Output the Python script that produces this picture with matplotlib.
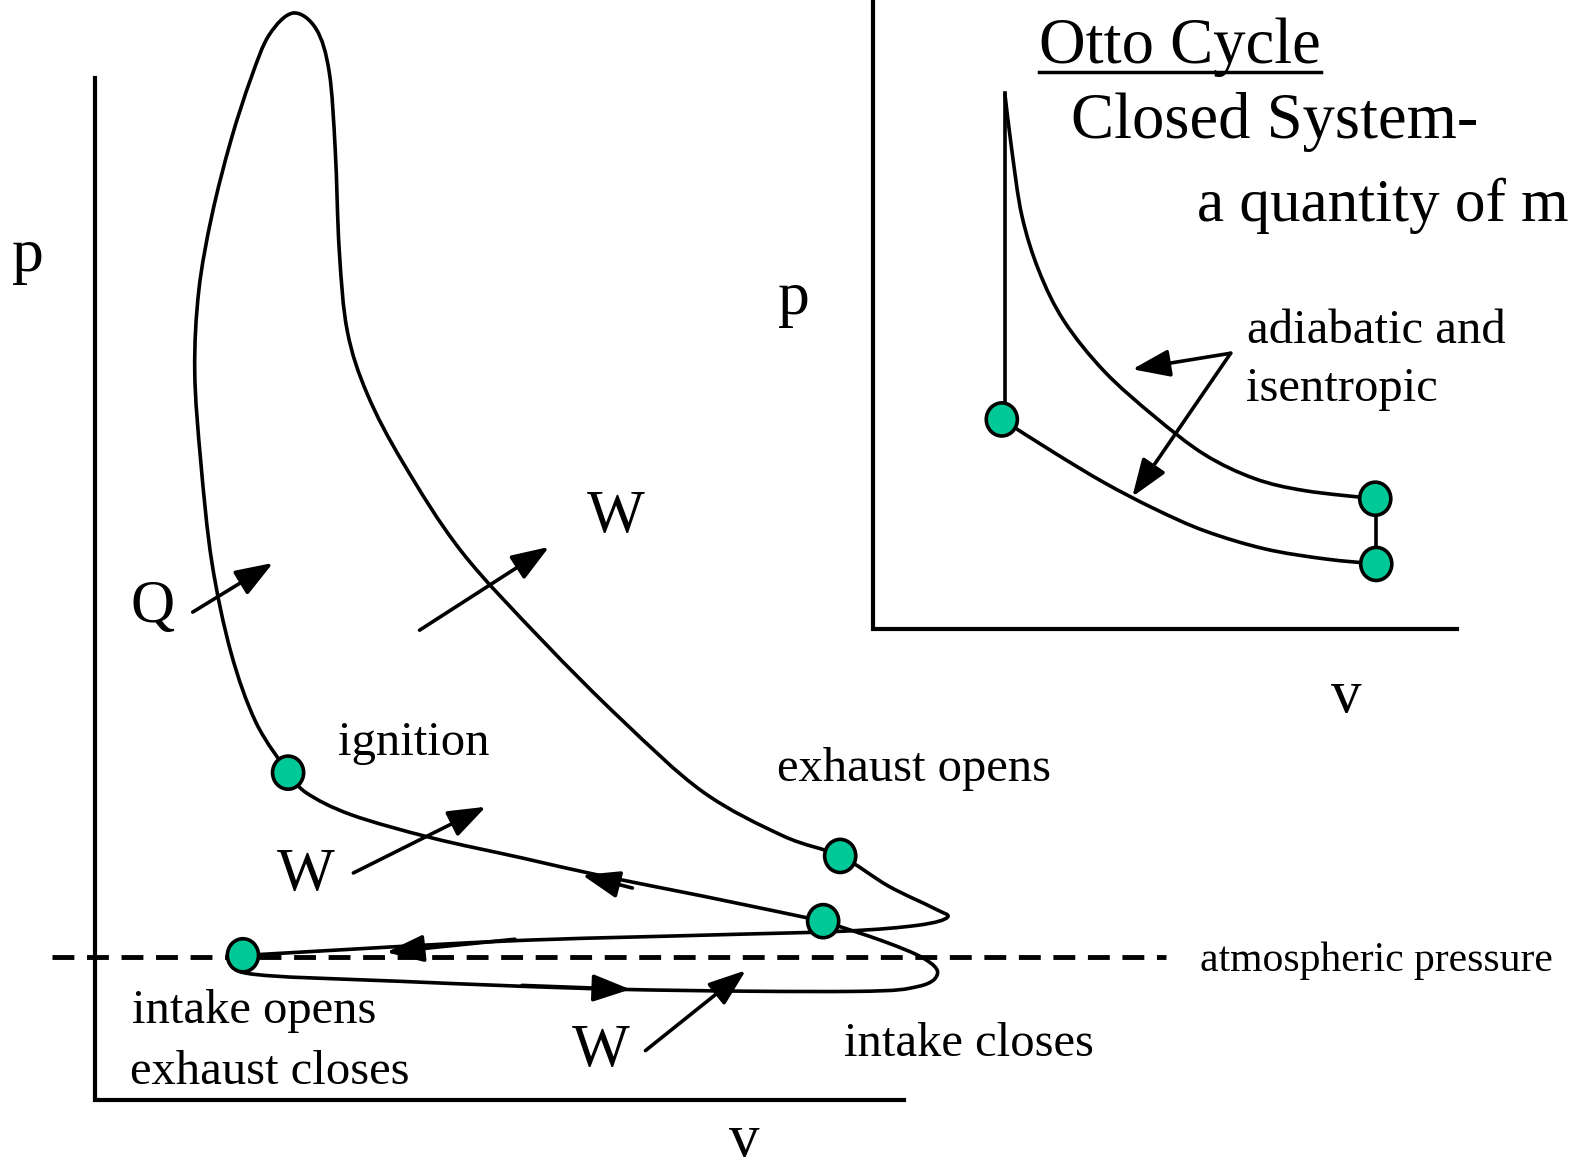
import numpy as np
import matplotlib
matplotlib.use("Agg")
import matplotlib.pyplot as plt
from matplotlib.path import Path
from matplotlib.patches import PathPatch, Ellipse

plt.rcParams['font.family'] = ['Liberation Serif', 'DejaVu Serif']

# ---- diagram data (image coordinates, y grows downward) ----
# main p-v loop of a real engine, traced from ignition around
loop_x = [287, 255, 230, 211, 200, 194, 198, 211, 230, 250, 268, 292, 315, 328,
          334, 338, 346, 366, 402, 460, 540, 620, 700, 780, 837, 885, 930,
          944, 915, 840, 700, 500, 245]
loop_y = [770, 720, 650, 560, 460, 370, 290, 215, 140, 78, 35, 13, 29, 72,
          150, 250, 330, 393, 462, 550, 638, 718, 789, 833, 853, 883, 905,
          914, 922, 928, 932, 938, 952]
# intake stroke + compression back to ignition
intake_x = [245, 246, 400, 620, 850, 915, 934, 920, 880, 820]
intake_y = [952, 970, 978, 986, 988, 983, 970, 955, 938, 918]
comp_x = [820, 700, 600, 520, 430, 350, 305, 287]
comp_y = [918, 893, 873, 855, 835, 812, 790, 770]

# Otto cycle inset
otto_exp_x = [1001, 1008, 1018, 1035, 1060, 1100, 1150, 1200, 1250, 1300, 1370]
otto_exp_y = [93, 150, 215, 270, 320, 370, 415, 453, 477, 489, 497]
otto_comp_x = [998, 1050, 1100, 1150, 1200, 1260, 1320, 1371]
otto_comp_y = [418, 451, 481, 507, 529, 547, 557, 562]

# state points
main_pts_x = [287, 837, 820, 242]
main_pts_y = [770, 853, 918, 952]
otto_pts_x = [998, 1370, 1371]
otto_pts_y = [418, 497, 562]

# arrows: (tail x, tail y, head x, head y)
arrows = [(192, 610, 272, 561), (418, 628, 547, 545), (352, 870, 484, 804),
          (643, 1047, 743, 967), (1226, 352, 1128, 368), (1226, 352, 1128, 495),
          (630, 885, 580, 872), (513, 936, 385, 949), (520, 982, 628, 986)]

labels = [("p", 28, 255, 46), ("Q", 152, 605, 44), ("W", 613, 515, 44),
          ("W", 305, 872, 44), ("W", 598, 1048, 44), ("v", 741, 1137, 44),
          ("ignition", 412, 740, 35), ("exhaust opens", 911, 766, 35),
          ("intake closes", 965, 1040, 35), ("intake opens", 253, 1008, 35),
          ("exhaust closes", 269, 1068, 35), ("p", 791, 298, 46),
          ("v", 1341, 695, 44), ("Closed System-", 1270, 122, 46.5),
          ("adiabatic and", 1371, 330, 35), ("isentropic", 1337, 388, 35)]

GREEN = "#00C896"
LW = 2.6


def smooth(xs, ys):
    # Catmull-Rom knots turned into cubic bezier segments
    p = np.column_stack([xs, ys]).astype(float)
    verts, codes = [p[0]], [Path.MOVETO]
    for i in range(len(p) - 1):
        p0 = p[i - 1] if i > 0 else p[i]
        p3 = p[i + 2] if i + 2 < len(p) else p[i + 1]
        c1 = p[i] + (p[i + 1] - p0) / 6
        c2 = p[i + 1] - (p3 - p[i]) / 6
        verts += [c1, c2, p[i + 1]]
        codes += [Path.CURVE4] * 3
    return Path(verts, codes)


fig = plt.figure(figsize=(15.74, 11.67), dpi=100)
ax = fig.add_axes([0, 0, 1, 1])
ax.set_xlim(0, 1568)
ax.set_ylim(1163, 0)
ax.axis("off")

# axes of both diagrams
ax.plot([95, 95, 901], [78, 1096, 1096], color="k", lw=3, solid_joinstyle="miter")
ax.plot([870, 870, 1451], [0, 627, 627], color="k", lw=3, solid_joinstyle="miter")

# atmospheric pressure line
ax.plot([52, 1162], [954, 954], color="k", lw=3.5, ls=(0, (4.5, 2.6)))

for xs, ys in [(loop_x, loop_y), (intake_x, intake_y), (comp_x, comp_y),
               (otto_exp_x, otto_exp_y), (otto_comp_x, otto_comp_y)]:
    ax.add_patch(PathPatch(smooth(xs, ys), fill=False, lw=LW, ec="k",
                           capstyle="round", joinstyle="round"))

ax.plot([1001, 1001], [93, 418], color="k", lw=LW)
ax.plot([1371, 1371], [497, 562], color="k", lw=LW)

for x0, y0, x1, y1 in arrows:
    ax.annotate("", xy=(x1, y1), xytext=(x0, y0),
                arrowprops=dict(arrowstyle="-|>,head_length=1.15,head_width=0.42",
                                color="k", lw=LW, mutation_scale=20,
                                shrinkA=0, shrinkB=0))

for x, y in zip(main_pts_x + otto_pts_x, main_pts_y + otto_pts_y):
    ax.add_patch(Ellipse((x, y), 31, 33, fc=GREEN, ec="k", lw=2.6, zorder=5))

for txt, x, y, fs in labels:
    ax.text(x, y, txt, fontsize=fs, ha="center", va="center")

ax.text(1035, 47, "Otto Cycle", fontsize=46.5, ha="left", va="center")
ax.plot([1035, 1316], [72, 72], color="k", lw=2.5)
ax.text(1192, 205, "a quantity of m", fontsize=44, ha="left", va="center")
ax.text(1195, 957, "atmospheric pressure", fontsize=30, ha="left", va="center")

fig.savefig("out.png", dpi=100)
